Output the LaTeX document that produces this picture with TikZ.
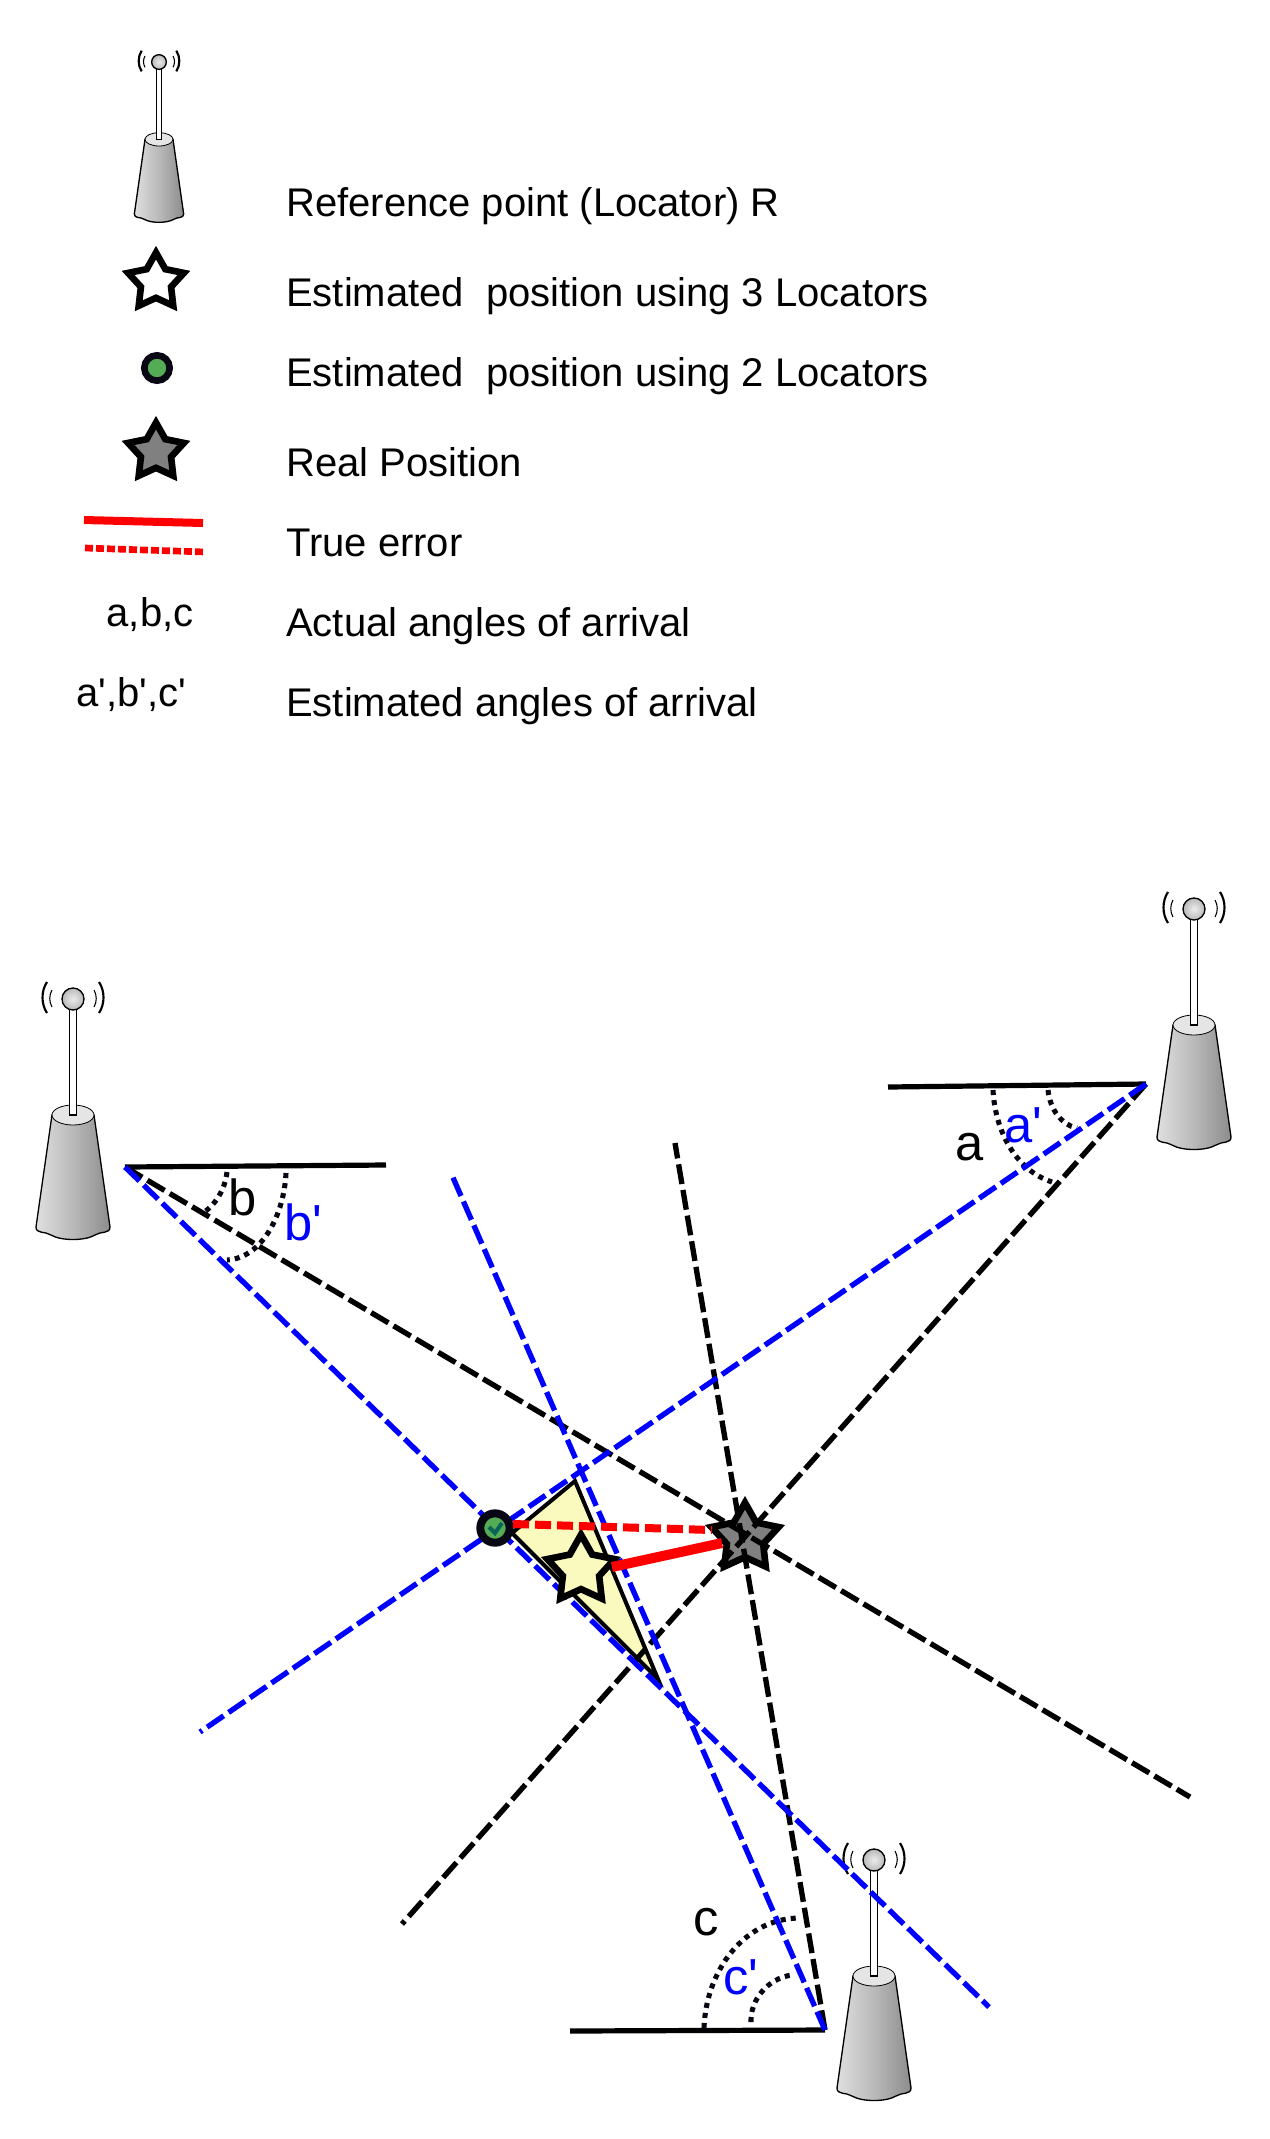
\documentclass[tikz,border=0pt]{standalone}
\usepackage{fontspec}
\setmainfont{Liberation Sans}
\usetikzlibrary{shapes.geometric,shadings}

\definecolor{dotgreen}{RGB}{84,172,84}
\definecolor{dotteal}{RGB}{10,100,90}
\definecolor{estyellow}{RGB}{250,250,190}
\definecolor{realgray}{RGB}{128,128,128}
\definecolor{rimblack}{RGB}{8,8,20}

\tikzset{
  pics/antenna/.style={code={
    \draw[line width=1pt, left color=gray!25, right color=gray!90, middle color=gray!55]
      (-21,116) -- (-37,228) .. controls (-37,235) and (-28,232) .. (-22,236)
      .. controls (-12,242) and (12,242) .. (22,236)
      .. controls (28,232) and (37,235) .. (37,228) -- (21,116) -- cycle;
    \draw[line width=0.6pt, fill=gray!20] (0,116) ellipse (21 and 10);
    \draw[line width=1pt, fill=white] (-3.5,8) -- (-3.5,116) -- (3.5,116) -- (3.5,8) -- cycle;
    \draw[line width=1pt, inner color=gray!15, outer color=gray!55] (0,0) circle (11);
    \foreach \s in {-1,1} {
      \draw[line width=1.6pt] (\s*26,-17) .. controls (\s*32,-8) and (\s*32,5) .. (\s*26,14);
      \draw[line width=0.8pt] (\s*21,-9) .. controls (\s*24,-4) and (\s*24,3) .. (\s*21,8);
    }
  }}
}

\begin{document}
\begin{tikzpicture}[
  x=0.75pt, y=-0.75pt,
  font=\fontsize{30}{36}\selectfont,
  legend/.style={anchor=base west, inner sep=0pt},
  symbol/.style={anchor=base, inner sep=0pt},
  anglabel/.style={anchor=center, inner sep=0pt, font=\fontsize{38}{44}\selectfont},
  startype/.style={star, star points=5, star point ratio=1.85, draw=black, line width=5pt, minimum size=44pt, inner sep=0pt, miter limit=10},
  bigstar/.style={startype, minimum size=53pt},
  dotmark/.style={circle, draw=rimblack, fill=dotgreen, line width=6pt, minimum size=22pt, inner sep=0pt},
  refline/.style={line width=3.9pt},
  bearing/.style={line width=4pt, dash pattern=on 15pt off 4.5pt},
  blueline/.style={bearing, draw=blue},
  arcdots/.style={line width=3.8pt, dash pattern=on 3.8pt off 3.8pt, draw=rimblack},
  errsolid/.style={draw=red, line width=7.5pt},
  errdash/.style={draw=red, line width=6pt, dash pattern=on 12pt off 4.5pt}
]
\useasboundingbox (0,0) rectangle (1270,2139);

% legend
\pic[scale=2/3] at (159,62) {antenna};
\node[startype, fill=white] (keythree) at (156,282) {};
\node[dotmark, minimum size=19pt, line width=5pt] (keytwo) at (157,368) {};
\node[startype, fill=realgray] (keyreal) at (156,452) {};
\coordinate (keysolidA) at (84,520);
\coordinate (keysolidB) at (203,523);
\coordinate (keydashA) at (85,548);
\coordinate (keydashB) at (205,552);
\draw[errsolid, line width=6pt] (keysolidA) -- (keysolidB);
\draw[errdash, line width=5pt, dash pattern=on 6pt off 2.25pt] (keydashA) -- (keydashB);
\node[symbol] (keyactual) at (150,626) {a,b,c};
\node[symbol] (keyest) at (131,706) {a\textquotesingle,b\textquotesingle,c\textquotesingle};

\node[legend] (txtref) at (286,216) {Reference point (Locator) R};
\node[legend] (txtthree) at (286,306) {Estimated\ \ position using 3 Locators};
\node[legend] (txttwo) at (286,386) {Estimated\ \ position using 2 Locators};
\node[legend] (txtreal) at (286,476) {Real Position};
\node[legend] (txterr) at (286,556) {True error};
\node[legend] (txtactual) at (286,636) {Actual angles of arrival};
\node[legend] (txtest) at (286,716) {Estimated angles of arrival};

% locators
\pic at (73,999) {antenna};
\pic at (1194,909) {antenna};
\pic at (874,1860) {antenna};

% reference lines and line ends
\coordinate (apexA) at (1146,1084);
\coordinate (apexB) at (125,1167);
\coordinate (apexC) at (825,2030);
\coordinate (refA) at (888,1087);
\coordinate (refB) at (386,1165);
\coordinate (refC) at (570,2031);
\coordinate (endA) at (402,1924);
\coordinate (endB) at (1190,1797);
\coordinate (endC) at (675,1143);
\coordinate (endAe) at (200,1732);
\coordinate (endBe) at (989,2007);
\coordinate (endCe) at (451,1173);

\draw[refline] (refA) -- (apexA);
\draw[refline] (apexB) -- (refB);
\draw[refline] (refC) -- (apexC);

% angle arcs
\draw[arcdots] (993,1090) .. controls (995,1130) and (1015,1170) .. (1052,1182);
\draw[arcdots] (1048,1090) .. controls (1050,1110) and (1062,1125) .. (1077,1128);
\draw[arcdots] (227,1172) .. controls (225,1190) and (215,1205) .. (203,1213);
\draw[arcdots] (286,1173) .. controls (284,1215) and (262,1258) .. (227,1260);
\draw[arcdots] (704,2028) .. controls (706,1970) and (745,1918) .. (800,1918);
\draw[arcdots] (751,2022) .. controls (750,2000) and (768,1978) .. (792,1975);

% region of the three estimates
\coordinate (triA) at (575,1481);
\coordinate (triB) at (512,1533);
\coordinate (triC) at (658,1679);
\draw[line width=3pt, fill=estyellow] (triA) -- (triB) -- (triC) -- cycle;

\node[bigstar, fill=realgray] (real) at (745,1538) {};

\draw[bearing] (apexA) -- (endA);
\draw[bearing] (apexB) -- (endB);
\draw[bearing] (apexC) -- (endC);
\draw[blueline] (apexA) -- (endAe);
\draw[blueline] (apexB) -- (endBe);
\draw[blueline] (apexC) -- (endCe);

\node[dotmark] (esttwo) at (495,1528) {};
\draw[draw=dotteal, line width=3pt] (489,1527) -- (495,1533) -- (502,1523);
\node[bigstar, fill=estyellow] (estthree) at (581,1570) {};

\coordinate (errA) at (612,1567);
\coordinate (errB) at (722,1543);
\coordinate (errC) at (513,1524);
\coordinate (errD) at (712,1530);
\draw[errsolid] (errA) -- (errB);
\draw[errdash] (errC) -- (errD);

\node[anglabel] (laba) at (970,1147) {a};
\node[anglabel, text=blue] (labae) at (1023,1125) {a\textquotesingle};
\node[anglabel] (labb) at (243,1197) {b};
\node[anglabel, text=blue] (labbe) at (303,1222) {b\textquotesingle};
\node[anglabel] (labc) at (706,1922) {c};
\node[anglabel, text=blue] (labce) at (741,1977) {c\textquotesingle};
\end{tikzpicture}
\end{document}
